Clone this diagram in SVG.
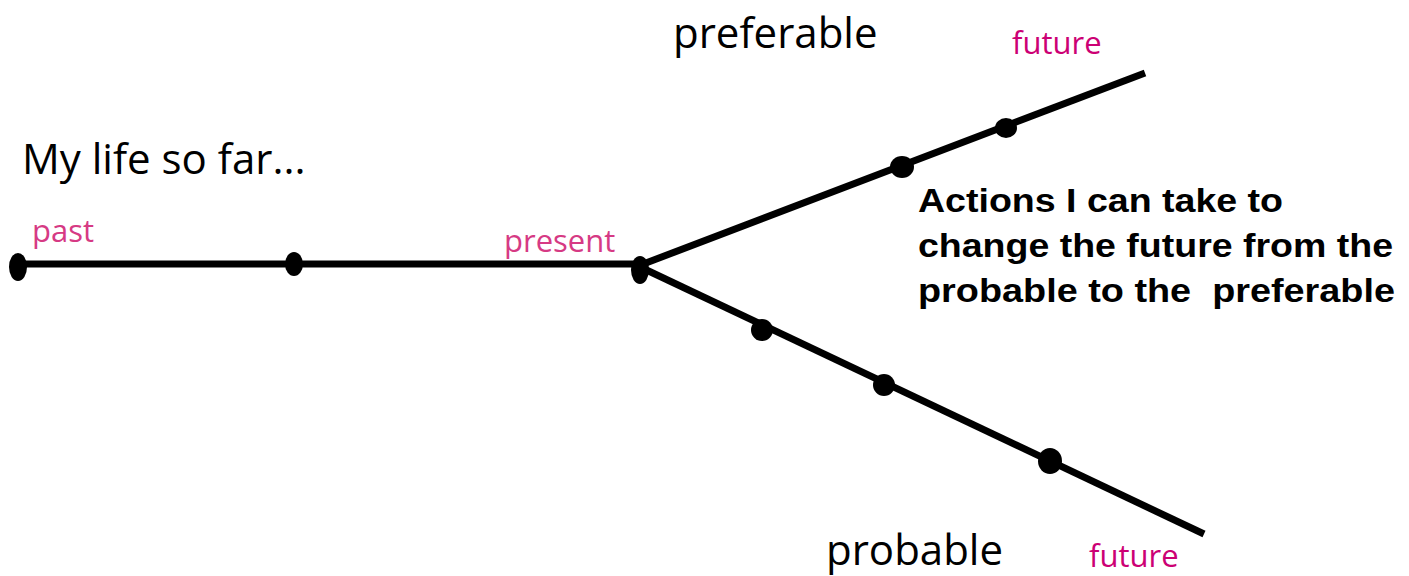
<svg xmlns="http://www.w3.org/2000/svg" width="1409" height="576" viewBox="0 0 1409 576">
<style>
.ln{stroke:#000;stroke-width:7;fill:none;stroke-linecap:butt}
.dot{fill:#000}
.big{font-family:"Open Sans","Noto Sans",sans-serif;font-size:42px;fill:#000}
.pk{font-family:"Open Sans","Noto Sans",sans-serif;font-size:31px;fill:#d63a84}
.fu{font-family:"Open Sans","Noto Sans",sans-serif;font-size:31px;fill:#cc0074}
.act{font-family:"Liberation Sans",Arial,sans-serif;font-size:33px;font-weight:bold;fill:#000}
</style>
<rect width="1409" height="576" fill="#fff"/>
<g id="connectors">
<line class="ln" x1="18" y1="264" x2="640" y2="264"/>
<line class="ln" x1="638" y1="266" x2="1145" y2="73"/>
<line class="ln" x1="638" y1="266" x2="1204" y2="534"/>
</g>
<g id="node-past">
<ellipse class="dot" cx="18" cy="267" rx="9" ry="14"/>
<text class="pk" x="32" y="242">past</text>
</g>
<g id="node-mid-past">
<ellipse class="dot" cx="294" cy="264" rx="9" ry="12"/>
</g>
<g id="node-present">
<ellipse class="dot" cx="640" cy="270" rx="9" ry="14"/>
<text class="pk" x="504" y="252">present</text>
</g>
<g id="node-pref1"><ellipse class="dot" cx="902" cy="167" rx="12" ry="11"/></g>
<g id="node-pref2"><ellipse class="dot" cx="1006" cy="128" rx="11" ry="10"/></g>
<g id="node-prob1"><ellipse class="dot" cx="762" cy="330" rx="11" ry="11"/></g>
<g id="node-prob2"><ellipse class="dot" cx="884" cy="385" rx="11" ry="11"/></g>
<g id="node-prob3"><ellipse class="dot" cx="1050" cy="461" rx="12" ry="13"/></g>
<g id="label-mylife"><text class="big" x="22" y="174">My life so far...</text></g>
<g id="label-preferable"><text class="big" x="673" y="48">preferable</text></g>
<g id="label-future-top"><text class="fu" x="1012" y="54">future</text></g>
<g id="label-probable"><text class="big" x="826" y="565">probable</text></g>
<g id="label-future-bottom"><text class="fu" x="1089" y="567">future</text></g>
<g id="label-actions">
<text class="act" x="918" y="212" textLength="365" lengthAdjust="spacingAndGlyphs">Actions I can take to</text>
<text class="act" x="918" y="257" textLength="475" lengthAdjust="spacingAndGlyphs">change the future from the</text>
<text class="act" x="918" y="302" textLength="477" lengthAdjust="spacingAndGlyphs" xml:space="preserve">probable to the  preferable</text>
</g>
</svg>
